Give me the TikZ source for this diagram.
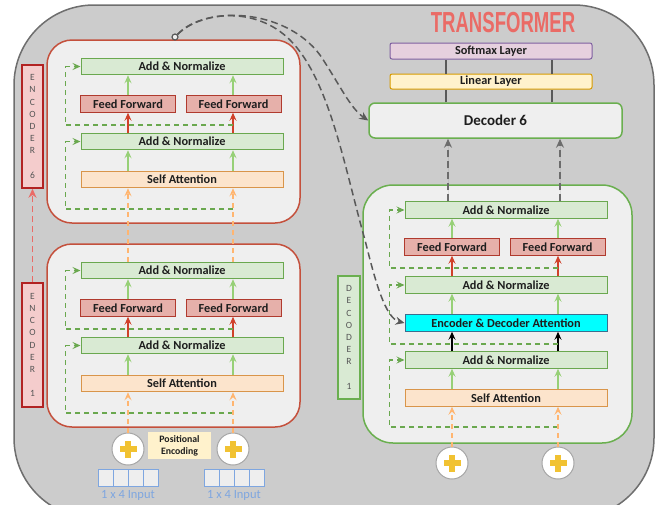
\documentclass[tikz,border=0pt]{standalone}
\usepackage{fontspec}
\setmainfont{Carlito}
\newfontfamily\titlefont{Liberation Sans}
\usepackage{tikz}
\usepackage{xcolor}
\usetikzlibrary{arrows.meta}

\definecolor{bggray}{HTML}{CCCCCC}
\definecolor{bgline}{HTML}{6E6E6E}
\definecolor{panel}{HTML}{EFEFEF}
\definecolor{encline}{HTML}{C4503C}
\definecolor{decline}{HTML}{6AAF4F}
\definecolor{anfill}{HTML}{D9EAD3}
\definecolor{anline}{HTML}{6AA84F}
\definecolor{fffill}{HTML}{E6B0AA}
\definecolor{ffline}{HTML}{B03A2E}
\definecolor{safill}{HTML}{FCE4CC}
\definecolor{saline}{HTML}{D9954A}
\definecolor{edafill}{HTML}{00FFFF}
\definecolor{edaline}{HTML}{3B6E8F}
\definecolor{smfill}{HTML}{E6D0DE}
\definecolor{smline}{HTML}{7E5FA0}
\definecolor{linfill}{HTML}{FFF2CC}
\definecolor{linline}{HTML}{D79B00}
\definecolor{inblue}{HTML}{7EA6E0}
\definecolor{cellfill}{HTML}{EEEEEE}
\definecolor{plusc}{HTML}{F1C232}
\definecolor{orangeflow}{HTML}{FFB570}
\definecolor{greenflow}{HTML}{97D077}
\definecolor{redflow}{HTML}{D0402A}
\definecolor{titlered}{HTML}{EA6B66}
\definecolor{elabfill}{HTML}{F4CCCC}
\definecolor{elabline}{HTML}{B22222}
\definecolor{skipgray}{HTML}{595959}
\definecolor{txt}{HTML}{1E1E1E}
\definecolor{labtxt}{HTML}{555555}

\tikzstyle{layer} = [rectangle, draw, line width=1pt, inner sep=0pt, minimum height=16.5pt, text=txt, font=\bfseries\fontsize{12.3}{12}\selectfont]
\tikzstyle{addnorm} = [layer, draw=anline, fill=anfill, minimum width=202pt]
\tikzstyle{feedfwd} = [layer, draw=ffline, fill=fffill, minimum width=95pt]
\tikzstyle{selfatt} = [layer, draw=saline, fill=safill, minimum width=202pt]
\tikzstyle{crossatt} = [layer, draw=edaline, fill=edafill, minimum width=202pt]
\tikzstyle{block} = [rectangle, fill=panel, line width=1.5pt]
\tikzstyle{vlabel} = [rectangle, line width=1.5pt, minimum width=21pt, inner sep=0pt, align=center, text=labtxt, font=\fontsize{9.5}{12.2}\selectfont]
\tikzstyle{adder} = [circle, draw=gray!70, fill=white, line width=1pt, minimum size=32pt, inner sep=0pt,
  path picture={\fill[plusc] ([xshift=-8.5pt,yshift=-3pt]path picture bounding box.center) rectangle ([xshift=8.5pt,yshift=3pt]path picture bounding box.center);
                \fill[plusc] ([xshift=-3pt,yshift=-8.5pt]path picture bounding box.center) rectangle ([xshift=3pt,yshift=8.5pt]path picture bounding box.center);}]
\tikzstyle{cell} = [rectangle, draw=inblue, fill=cellfill, line width=1pt, minimum width=15pt, minimum height=17pt, inner sep=0pt]
\tikzstyle{flow} = [line width=1.2pt, -{Stealth[length=8pt,width=7pt,inset=3pt]}]
\tikzstyle{feed} = [flow, orangeflow, dash pattern=on 5pt off 4pt]
\tikzstyle{skip} = [line width=1.3pt, anline, dash pattern=on 5pt off 4pt, -{Stealth[length=8pt,width=7pt,inset=3pt]}]
\tikzstyle{memory} = [line width=1.5pt, skipgray, dash pattern=on 7pt off 4pt, -{Stealth[length=9pt,width=8pt,inset=3pt]}]

\begin{document}
\begin{tikzpicture}[x=1pt,y=-1pt]
  \useasboundingbox (0,0) rectangle (671,504);
  % outer frame
  \draw[fill=bggray, draw=bgline, line width=1.5pt, rounded corners=80pt] (14,5) rectangle (654,518);
  \node[text=titlered, font=\titlefont\bfseries\fontsize{29}{29}\selectfont] (title) at (503,23) {\scalebox{0.64}[1]{TRANSFORMER}};

  \coordinate (colA) at (128,0);
  \coordinate (colB) at (233,0);
  \coordinate (dcolA) at (452,0);
  \coordinate (dcolB) at (558,0);

  % encoder 6
  \node[block, draw=encline, rounded corners=25pt, minimum width=253pt, minimum height=183pt] (enc6) at (173.5,131.5) {};
  \node[addnorm] (e6an1) at (182,66.5) {Add \& Normalize};
  \node[feedfwd] (e6ff1) at (128,104) {Feed Forward};
  \node[feedfwd] (e6ff2) at (233.5,104) {Feed Forward};
  \node[addnorm] (e6an2) at (182,141.5) {Add \& Normalize};
  \node[selfatt] (e6sa) at (182,179.5) {Self Attention};

  % encoder 1
  \node[block, draw=encline, rounded corners=25pt, minimum width=253pt, minimum height=183pt] (enc1) at (173.5,335.5) {};
  \node[addnorm] (e1an1) at (182,270.5) {Add \& Normalize};
  \node[feedfwd] (e1ff1) at (128,308) {Feed Forward};
  \node[feedfwd] (e1ff2) at (233.5,308) {Feed Forward};
  \node[addnorm] (e1an2) at (182,345.5) {Add \& Normalize};
  \node[selfatt] (e1sa) at (182,383.5) {Self Attention};

  % encoder flows
  \draw[flow, greenflow] (e6sa.north -| colA) -- (e6an2.south -| colA);
  \draw[flow, greenflow] (e6sa.north -| colB) -- (e6an2.south -| colB);
  \draw[flow, redflow] (e6an2.north -| colA) -- (e6ff1.south -| colA);
  \draw[flow, redflow] (e6an2.north -| colB) -- (e6ff2.south -| colB);
  \draw[flow, greenflow] (e6ff1.north -| colA) -- (e6an1.south -| colA);
  \draw[flow, greenflow] (e6ff2.north -| colB) -- (e6an1.south -| colB);
  \draw[flow, greenflow] (e1sa.north -| colA) -- (e1an2.south -| colA);
  \draw[flow, greenflow] (e1sa.north -| colB) -- (e1an2.south -| colB);
  \draw[flow, redflow] (e1an2.north -| colA) -- (e1ff1.south -| colA);
  \draw[flow, redflow] (e1an2.north -| colB) -- (e1ff2.south -| colB);
  \draw[flow, greenflow] (e1ff1.north -| colA) -- (e1an1.south -| colA);
  \draw[flow, greenflow] (e1ff2.north -| colB) -- (e1an1.south -| colB);
  \draw[feed] (e1an1.north -| colA) -- (e6sa.south -| colA);
  \draw[feed] (e1an1.north -| colB) -- (e6sa.south -| colB);

  \coordinate (e6k1) at (233,125);
  \coordinate (e6k2) at (233,209);
  \coordinate (e1k1) at (233,329);
  \coordinate (e1k2) at (233,413);
  \draw[skip] (e6k1) -| ([xshift=-15pt]e6an1.west) -- (e6an1.west);
  \draw[skip] (e6k2) -| ([xshift=-15pt]e6an2.west) -- (e6an2.west);
  \draw[skip] (e1k1) -| ([xshift=-15pt]e1an1.west) -- (e1an1.west);
  \draw[skip] (e1k2) -| ([xshift=-15pt]e1an2.west) -- (e1an2.west);

  % encoder labels
  \node[vlabel, draw=elabline, fill=elabfill, minimum height=123pt] (lab6) at (32.5,126.5) {E\\N\\C\\O\\D\\E\\R\\[12.2pt]6};
  \node[vlabel, draw=elabline, fill=elabfill, minimum height=124pt] (lab1) at (32.5,345) {E\\N\\C\\O\\D\\E\\R\\[12.2pt]1};
  \draw[titlered, line width=1.3pt, dash pattern=on 6pt off 4pt, -{Stealth[length=9pt,width=8pt]}] (lab1) -- (lab6);

  % inputs
  \node[adder] (addA) at (128,449) {};
  \node[adder] (addB) at (233,449) {};
  \node[rectangle, fill=linfill, minimum width=63pt, minimum height=27pt, inner sep=0pt, align=center, text=txt, font=\bfseries\fontsize{9.8}{12}\selectfont] (posenc) at (179.5,445.5) {Positional\\Encoding};
  \draw[feed] (addA) -- (e1sa.south -| colA);
  \draw[feed] (addB) -- (e1sa.south -| colB);
  \foreach \i in {0,...,3} {
    \node[cell] (inA\i) at (105.5+15*\i,477.5) {};
    \node[cell] (inB\i) at (211.5+15*\i,477.5) {};
  }
  \node[text=inblue, font=\fontsize{12.5}{12}\selectfont] (inlabA) at (128,495) {1 x 4 Input};
  \node[text=inblue, font=\fontsize{12.5}{12}\selectfont] (inlabB) at (234,495) {1 x 4 Input};

  % decoder 1
  \node[block, draw=decline, rounded corners=30pt, minimum width=269pt, minimum height=258pt] (dec1) at (497.5,314) {};
  \node[addnorm] (dan1) at (506,210) {Add \& Normalize};
  \node[feedfwd] (dff1) at (452,247) {Feed Forward};
  \node[feedfwd] (dff2) at (557.5,247) {Feed Forward};
  \node[addnorm] (dan2) at (506,285) {Add \& Normalize};
  \node[crossatt] (deda) at (506,323) {Encoder \& Decoder Attention};
  \node[addnorm] (dan3) at (506,360) {Add \& Normalize};
  \node[selfatt] (dsa) at (506,398) {Self Attention};

  \draw[flow, greenflow] (dsa.north -| dcolA) -- (dan3.south -| dcolA);
  \draw[flow, greenflow] (dsa.north -| dcolB) -- (dan3.south -| dcolB);
  \draw[flow, black] (dan3.north -| dcolA) -- (deda.south -| dcolA);
  \draw[flow, black] (dan3.north -| dcolB) -- (deda.south -| dcolB);
  \draw[flow, greenflow] (deda.north -| dcolA) -- (dan2.south -| dcolA);
  \draw[flow, greenflow] (deda.north -| dcolB) -- (dan2.south -| dcolB);
  \draw[flow, redflow] (dan2.north -| dcolA) -- (dff1.south -| dcolA);
  \draw[flow, redflow] (dan2.north -| dcolB) -- (dff2.south -| dcolB);
  \draw[flow, greenflow] (dff1.north -| dcolA) -- (dan1.south -| dcolA);
  \draw[flow, greenflow] (dff2.north -| dcolB) -- (dan1.south -| dcolB);

  \coordinate (dk1) at (558,268);
  \coordinate (dk2) at (558,344);
  \coordinate (dk3) at (558,427);
  \draw[skip] (dk1) -| ([xshift=-15pt]dan1.west) -- (dan1.west);
  \draw[skip] (dk2) -| ([xshift=-15pt]dan2.west) -- (dan2.west);
  \draw[skip] (dk3) -| ([xshift=-15pt]dan3.west) -- (dan3.west);

  \node[vlabel, draw=decline, fill=anfill, minimum width=22pt, minimum height=123pt] (dlab1) at (349,337.5) {D\\E\\C\\O\\D\\E\\R\\[12.2pt]1};

  \node[adder] (addC) at (452,463) {};
  \node[adder] (addD) at (558,463) {};
  \draw[feed] (addC) -- (dsa.south -| dcolA);
  \draw[feed] (addD) -- (dsa.south -| dcolB);

  % output stack
  \node[rectangle, rounded corners=6pt, draw=decline, line width=1.5pt, fill=panel, minimum width=253pt, minimum height=35pt, text=txt, font=\bfseries\fontsize{15}{15}\selectfont] (dec6) at (495.5,120.5) {Decoder 6};
  \node[layer, draw=linline, fill=linfill, minimum width=202pt, minimum height=15pt, rounded corners=2pt] (lin) at (491,81.5) {Linear Layer};
  \node[layer, draw=smline, fill=smfill, minimum width=202pt, minimum height=16pt, rounded corners=2pt] (soft) at (491,51) {Softmax Layer};
  \coordinate (ocolA) at (446,0);
  \coordinate (ocolB) at (552,0);
  \coordinate (upA) at (448,0);
  \coordinate (upB) at (560,0);
  \draw[skipgray, line width=1.5pt] (dec6.north -| ocolA) -- (lin.south -| ocolA);
  \draw[skipgray, line width=1.5pt] (dec6.north -| ocolB) -- (lin.south -| ocolB);
  \draw[skipgray, line width=1.5pt] (lin.north -| ocolA) -- (soft.south -| ocolA);
  \draw[skipgray, line width=1.5pt] (lin.north -| ocolB) -- (soft.south -| ocolB);
  \draw[memory, draw=gray!85!black, fill=gray!85!black] (dan1.north -| upA) -- (dec6.south -| upA);
  \draw[memory, draw=gray!85!black, fill=gray!85!black] (dan1.north -| upB) -- (dec6.south -| upB);

  % encoder output to decoders
  \node[circle, draw=skipgray, fill=panel, line width=1.2pt, minimum size=6pt, inner sep=0pt] (tap) at (175,37) {};
  \draw[memory] (tap) .. controls (205,5) and (285,8) .. (320,55) .. controls (340,85) and (350,108) .. (dec6.west);
  \draw[memory] (tap) .. controls (200,12) and (255,5) .. (290,40) .. controls (330,80) and (345,170) .. (365,240) .. controls (375,280) and (385,318) .. (deda.west);
\end{tikzpicture}
\end{document}
